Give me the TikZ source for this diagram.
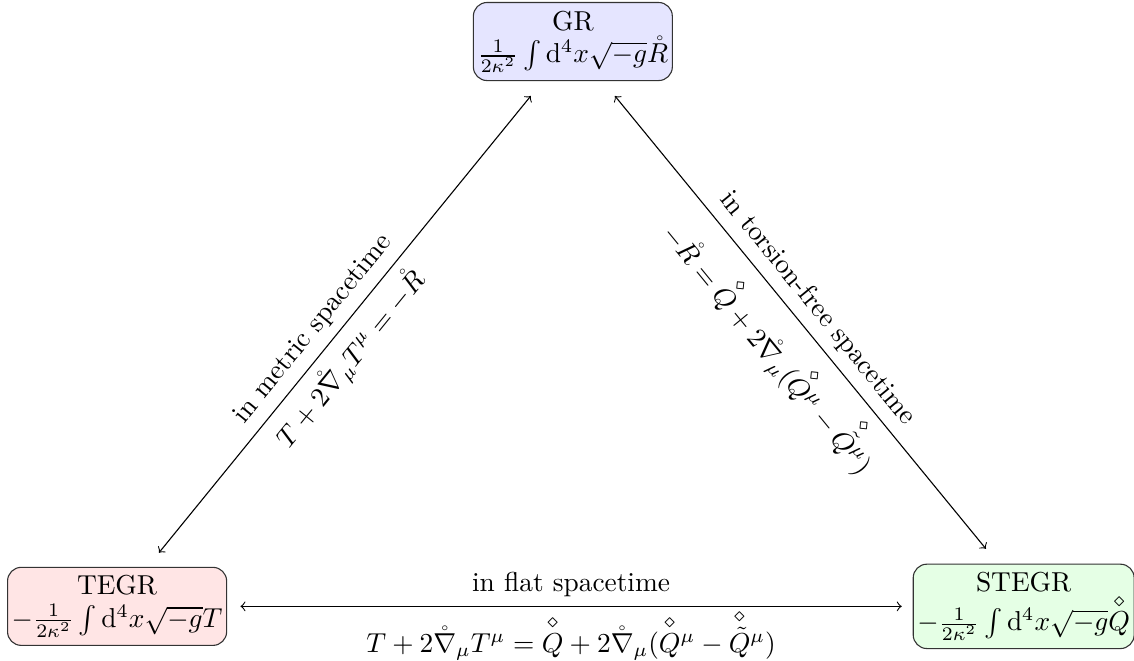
\documentclass[tikz,border=0pt]{standalone}
\usepackage{amsmath}
\usetikzlibrary{calc}

\newcommand{\dQ}{\overset{\diamond}{Q}}
\newcommand{\dtQ}{\overset{\diamond}{\tilde{Q}}}

\begin{document}
\begin{tikzpicture}[
  theory/.style={draw=black!80, rounded corners=5pt, align=center, inner xsep=1.5pt, inner ysep=3pt},
  link/.style={<->, draw=black, line width=0.4pt}
]
\useasboundingbox (0,0) rectangle (14.55,8.48);
\node[theory, fill=blue!10, anchor=north] (GR) at (7.35,8.455) {GR\\$\frac{1}{2\kappa^2}\int \mathrm{d}^4x\sqrt{-g}\mathring{R}$};
\node[theory, fill=red!10, anchor=west] (TEGR) at (0.09,0.70) {TEGR\\$-\frac{1}{2\kappa^2}\int \mathrm{d}^4x\sqrt{-g}T$};
\node[theory, fill=green!10, anchor=west] (STEGR) at (11.71,0.70) {STEGR\\$-\frac{1}{2\kappa^2}\int \mathrm{d}^4x\sqrt{-g}\dQ$};
\draw[link] ($(TEGR.north west)!0.69!(TEGR.north east)+(0,0.18)$) -- ($(GR.south west)!0.29!(GR.south east)+(0,-0.19)$)
  node[above, sloped, pos=0.46] {in metric spacetime}
  node[below, sloped, pos=0.46] {$T+2\mathring{\nabla}_\mu T^\mu=-\mathring{R}$};
\draw[link] ($(GR.south west)!0.71!(GR.south east)+(0,-0.19)$) -- ($(STEGR.north west)!0.33!(STEGR.north east)+(0,0.19)$)
  node[above, sloped, midway] {in torsion-free spacetime}
  node[below, sloped, midway] {$-\mathring{R}=\dQ+2\mathring{\nabla}_\mu(\dQ{}^\mu-\dtQ{}^\mu)$};
\draw[link] ([xshift=0.17cm]TEGR.east) -- ([xshift=-0.14cm]STEGR.west)
  node[above, midway] {in flat spacetime}
  node[below, midway, inner sep=1pt] {$T+2\mathring{\nabla}_\mu T^\mu=\dQ+2\mathring{\nabla}_\mu(\dQ{}^\mu-\dtQ{}^\mu)$};
\end{tikzpicture}
\end{document}
